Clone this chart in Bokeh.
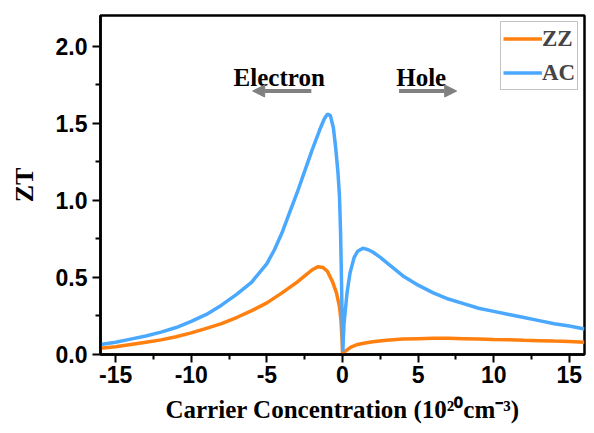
from bokeh.plotting import figure
from bokeh.models import Range1d, FixedTicker, Label, Arrow, NormalHead
from bokeh.embed import file_html
from bokeh.resources import INLINE

# ---- data ----
ac_x = [-16, -15, -14, -13, -12, -11, -10, -9, -8, -7, -6, -5.5, -5, -4.5, -4, -3.5, -3, -2.5,
        -2, -1.5, -1.2, -1.0, -0.8, -0.6, -0.45, -0.3, -0.2, -0.13, -0.07, -0.02, 0.02, 0.1,
        0.3, 0.5, 0.77, 1.0, 1.35, 1.7, 2.0, 2.5, 3, 4, 5, 6, 7, 8, 9, 10, 11, 12, 13, 14, 15, 16]
ac_y = [0.065, 0.08, 0.10, 0.12, 0.145, 0.175, 0.215, 0.26, 0.32, 0.39, 0.47, 0.53, 0.59, 0.68,
        0.79, 0.92, 1.05, 1.19, 1.33, 1.46, 1.53, 1.56, 1.55, 1.47, 1.34, 1.18, 1.03, 0.80, 0.50,
        0.20, 0.02, 0.20, 0.40, 0.53, 0.63, 0.67, 0.69, 0.68, 0.665, 0.63, 0.59, 0.51, 0.45, 0.40,
        0.36, 0.33, 0.30, 0.28, 0.26, 0.24, 0.22, 0.20, 0.185, 0.165]

zz_x = [-16, -15, -14, -13, -12, -11, -10, -9, -8, -7, -6, -5, -4, -3, -2.5, -2, -1.6, -1.3,
        -1.0, -0.65, -0.4, -0.2, -0.1, -0.03, 0.0, 0.1, 0.3, 0.6, 1, 1.5, 2, 2.9, 4, 5, 6, 7, 8,
        9, 10, 11, 12, 13, 14, 15, 16]
zz_y = [0.04, 0.05, 0.065, 0.08, 0.095, 0.115, 0.14, 0.17, 0.20, 0.24, 0.285, 0.335, 0.40, 0.47,
        0.51, 0.55, 0.57, 0.565, 0.54, 0.47, 0.40, 0.31, 0.22, 0.10, 0.01, 0.015, 0.03, 0.05,
        0.065, 0.075, 0.083, 0.092, 0.10, 0.103, 0.105, 0.105, 0.103, 0.10, 0.097, 0.095, 0.092,
        0.09, 0.087, 0.085, 0.08]

x_ticks = [-15, -10, -5, 0, 5, 10, 15]
x_tick_labels = ["-15", "-10", "-5", "0", "5", "10", "15"]
y_ticks = [0.0, 0.5, 1.0, 1.5, 2.0]
y_tick_labels = ["0.0", "0.5", "1.0", "1.5", "2.0"]
series_names = ["ZZ", "AC"]
x_title = "Carrier Concentration (10\u00b2\u2070cm\u207b\u00b3)"
y_title = "ZT"

ORANGE = "#FF7F0F"
BLUE = "#4AA8FF"
SERIF = "Liberation Serif"
SANS = "Liberation Sans"

p = figure(width=586, height=425, output_backend="svg", toolbar_location=None,
           x_range=Range1d(-16, 16), y_range=Range1d(0, 2.2),
           min_border_left=100, min_border_right=2, min_border_top=15, min_border_bottom=69)

p.xgrid.visible = False
p.ygrid.visible = False
p.outline_line_color = "black"
p.outline_line_width = 2.5
p.background_fill_color = "white"
p.border_fill_color = "white"

p.line(zz_x, zz_y, line_color=ORANGE, line_width=3.5, legend_label=series_names[0])
p.line(ac_x, ac_y, line_color=BLUE, line_width=3.5, legend_label=series_names[1])

x_minor = [(a + b) / 2 for a, b in zip(x_ticks[:-1], x_ticks[1:])]
y_minor = [(a + b) / 2 for a, b in zip(y_ticks[:-1], y_ticks[1:])]
p.xaxis.ticker = FixedTicker(ticks=x_ticks, minor_ticks=x_minor)
p.yaxis.ticker = FixedTicker(ticks=y_ticks, minor_ticks=y_minor)
p.xaxis.major_label_overrides = {t: l for t, l in zip(x_ticks, x_tick_labels)}
p.yaxis.major_label_overrides = {t: l for t, l in zip(y_ticks, y_tick_labels)}

for ax in (p.xaxis[0], p.yaxis[0]):
    ax.axis_line_width = 2.5
    ax.axis_line_color = "black"
    ax.major_tick_line_width = 2
    ax.minor_tick_line_width = 2
    ax.major_tick_in = 0
    ax.minor_tick_in = 0
    ax.major_tick_out = 8
    ax.minor_tick_out = 5
    ax.major_label_text_font = SANS
    ax.major_label_text_font_style = "bold"
    ax.major_label_text_font_size = "23px"
    ax.major_label_text_color = "black"
    ax.major_label_standoff = 5
    ax.axis_label_text_font = SERIF
    ax.axis_label_text_font_style = "bold"
    ax.axis_label_text_color = "black"

p.yaxis.axis_label = y_title
p.yaxis.axis_label_text_font_size = "26px"
p.yaxis.axis_label_standoff = 14

p.xaxis.axis_label = x_title
p.xaxis.axis_label_text_font_size = "25px"
p.xaxis.axis_label_standoff = 10
p.xaxis.major_label_standoff = 3

# annotations
p.add_layout(Label(x=-7.2, y=1.80, text="Electron", text_font=SERIF, text_font_style="bold",
                   text_font_size="25px", text_baseline="alphabetic", text_color="black"))
p.add_layout(Label(x=3.55, y=1.80, text="Hole", text_font=SERIF, text_font_style="bold",
                   text_font_size="25px", text_baseline="alphabetic", text_color="black"))
GRAY = "#808080"
p.add_layout(Arrow(x_start=-2.06, y_start=1.71, x_end=-5.94, y_end=1.71, line_color=GRAY,
                   line_width=4, end=NormalHead(size=12, fill_color=GRAY, line_color=GRAY)))
p.add_layout(Arrow(x_start=3.74, y_start=1.71, x_end=7.55, y_end=1.71, line_color=GRAY,
                   line_width=4, end=NormalHead(size=12, fill_color=GRAY, line_color=GRAY)))

lg = p.legend[0]
lg.location = (400, 264)
lg.margin = 0
lg.padding = 2
lg.spacing = 5
lg.glyph_width = 39
lg.glyph_height = 29
lg.label_height = 29
lg.label_standoff = 0
lg.label_text_font = SERIF
lg.label_text_font_style = "bold"
lg.label_text_font_size = "23px"
lg.border_line_color = "#888888"
lg.border_line_width = 1
lg.background_fill_alpha = 1

open("out.html", "w").write(file_html(p, INLINE))
